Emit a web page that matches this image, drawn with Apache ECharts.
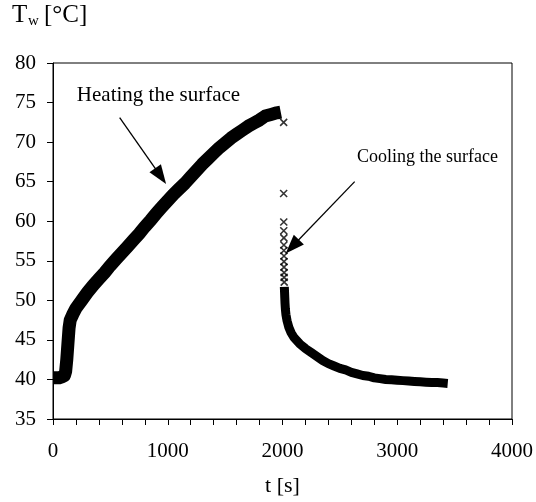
<!DOCTYPE html>
<html>
<head>
<meta charset="utf-8">
<script src="https://cdn.jsdelivr.net/npm/echarts@6/dist/echarts.min.js"></script>
<style>
html,body{margin:0;padding:0;background:#fff;}
#c{width:536px;height:502px;}
</style>
</head>
<body>
<div id="c"></div>
<script>
// ---- data ----
var heatTime = [0, 25, 50, 75, 100, 110, 120, 130, 140, 150, 175, 200, 250, 300, 350, 400, 450, 500, 550, 600, 650, 700, 750, 800, 850, 900, 950, 1000, 1050, 1100, 1150, 1200, 1250, 1300, 1350, 1400, 1450, 1500, 1550, 1600, 1650, 1700, 1750, 1800, 1850, 1900, 1950, 1985];
var heatTemp = [40.2, 40.2, 40.2, 40.3, 40.5, 41.0, 42.5, 44.5, 46.5, 47.5, 48.3, 49.0, 50.0, 51.0, 51.9, 52.7, 53.5, 54.4, 55.2, 56.0, 56.8, 57.6, 58.4, 59.3, 60.1, 61.0, 61.8, 62.6, 63.4, 64.1, 64.8, 65.6, 66.4, 67.2, 67.9, 68.6, 69.3, 69.9, 70.5, 71.0, 71.5, 72.0, 72.4, 72.8, 73.3, 73.5, 73.7, 73.8];

var dropTime = [2010, 2010, 2011, 2011, 2012, 2012, 2012, 2013, 2013, 2013, 2014, 2014, 2015];
var dropTemp = [72.5, 63.5, 59.9, 58.8, 57.9, 57.0, 56.3, 55.6, 54.9, 54.2, 53.5, 52.9, 52.3];

var coolTime = [2016, 2018, 2020, 2022, 2025, 2030, 2040, 2055, 2075, 2100, 2150, 2200, 2250, 2300, 2350, 2400, 2450, 2500, 2550, 2600, 2650, 2700, 2750, 2800, 2850, 2900, 2950, 3000, 3050, 3100, 3150, 3200, 3250, 3300, 3350, 3400, 3440];
var coolTemp = [51.7, 51.0, 50.3, 49.6, 48.9, 48.2, 47.4, 46.6, 45.9, 45.3, 44.5, 43.9, 43.4, 42.9, 42.4, 42.0, 41.7, 41.4, 41.2, 40.9, 40.7, 40.5, 40.4, 40.2, 40.1, 40.0, 39.95, 39.9, 39.85, 39.8, 39.75, 39.7, 39.65, 39.6, 39.6, 39.55, 39.5];

var xTicks = [0, 1000, 2000, 3000, 4000];
var yTicks = [35, 40, 45, 50, 55, 60, 65, 70, 75, 80];

// annotation anchors (data coordinates)
var heatArrow = [[581, 73.1], [938, 65.7]];
var coolArrow = [[2629, 65.0], [2085, 56.8]];
var heatLabelPos = [208, 75.75];
var coolLabelPos = [2650, 67.9];

function zip(a, b) { return a.map(function (v, i) { return [v, b[i]]; }); }

var FONT = '"Liberation Serif", "Times New Roman", serif';
var crossPath = 'path://M0,0L10,10M10,0L0,10';

var chart = echarts.init(document.getElementById('c'), null, { renderer: 'canvas' });

var option = {
  animation: false,
  backgroundColor: '#fff',
  grid: { left: 53, right: 22, top: 63, bottom: 79, show: true, borderColor: '#000', borderWidth: 1, backgroundColor: 'transparent' },
  xAxis: {
    type: 'value', min: xTicks[0], max: xTicks[xTicks.length - 1], interval: 1000,
    name: 't [s]', nameLocation: 'middle', nameGap: 56,
    nameTextStyle: { fontFamily: FONT, fontSize: 22, color: '#000' },
    axisLine: { show: true, lineStyle: { color: '#000', width: 1 } },
    axisTick: { show: true, length: 6, inside: false, lineStyle: { color: '#000' } },
    minorTick: { show: true, splitNumber: 5, length: 6, lineStyle: { color: '#000' } },
    axisLabel: { fontFamily: FONT, fontSize: 21, color: '#000', margin: 22, formatter: function (v) { return String(v); } },
    splitLine: { show: false }
  },
  yAxis: {
    type: 'value', min: yTicks[0], max: yTicks[yTicks.length - 1], interval: 5,
    axisLine: { show: true, lineStyle: { color: '#000', width: 1 } },
    axisTick: { show: true, length: 6, inside: false, lineStyle: { color: '#000' } },
    axisLabel: { fontFamily: FONT, fontSize: 21, color: '#000', margin: 17, formatter: function (v) { return String(v); } },
    splitLine: { show: false }
  },
  series: [
    {
      type: 'line', name: 'heating', data: zip(heatTime, heatTemp),
      showSymbol: false, smooth: false, silent: true,
      lineStyle: { color: '#000', width: 13, join: 'round', cap: 'butt' }
    },
    {
      type: 'line', name: 'cooling', data: zip(coolTime, coolTemp),
      showSymbol: false, smooth: false, silent: true,
      lineStyle: { color: '#000', width: 9, join: 'round', cap: 'butt' }
    },
    {
      type: 'scatter', name: 'drop', data: zip(dropTime, dropTemp),
      symbol: crossPath, symbolSize: 7, silent: true,
      itemStyle: { color: 'rgba(0,0,0,0)', borderColor: '#000', borderWidth: 1.6 },
      markLine: {
        silent: true, animation: false,
        symbol: ['none', 'triangle'], symbolSize: [14, 19],
        label: { show: false },
        lineStyle: { color: '#000', width: 1.3, type: 'solid' },
        emphasis: { disabled: true },
        data: [
          [{ coord: heatArrow[0] }, { coord: heatArrow[1] }],
          [{ coord: coolArrow[0] }, { coord: coolArrow[1] }]
        ]
      }
    }
  ]
};
chart.setOption(option);

var hp = chart.convertToPixel({ gridIndex: 0 }, heatLabelPos);
var cp = chart.convertToPixel({ gridIndex: 0 }, coolLabelPos);

chart.setOption({
  graphic: [
    { type: 'text', left: hp[0], top: hp[1] - 12, style: { text: 'Heating the surface', fontFamily: FONT, fontSize: 21, fill: '#000' } },
    { type: 'text', left: cp[0], top: cp[1] - 10, style: { text: 'Cooling the surface', fontFamily: FONT, fontSize: 18, fill: '#000' } },
    { type: 'text', left: 12, top: 3, style: { text: 'T', fontFamily: FONT, fontSize: 25, fill: '#000' } },
    { type: 'text', left: 28, top: 14, style: { text: 'w', fontFamily: FONT, fontSize: 15, fill: '#000' } },
    { type: 'text', left: 44, top: 3, style: { text: '[°C]', fontFamily: FONT, fontSize: 25, fill: '#000' } }
  ]
});
</script>
</body>
</html>
